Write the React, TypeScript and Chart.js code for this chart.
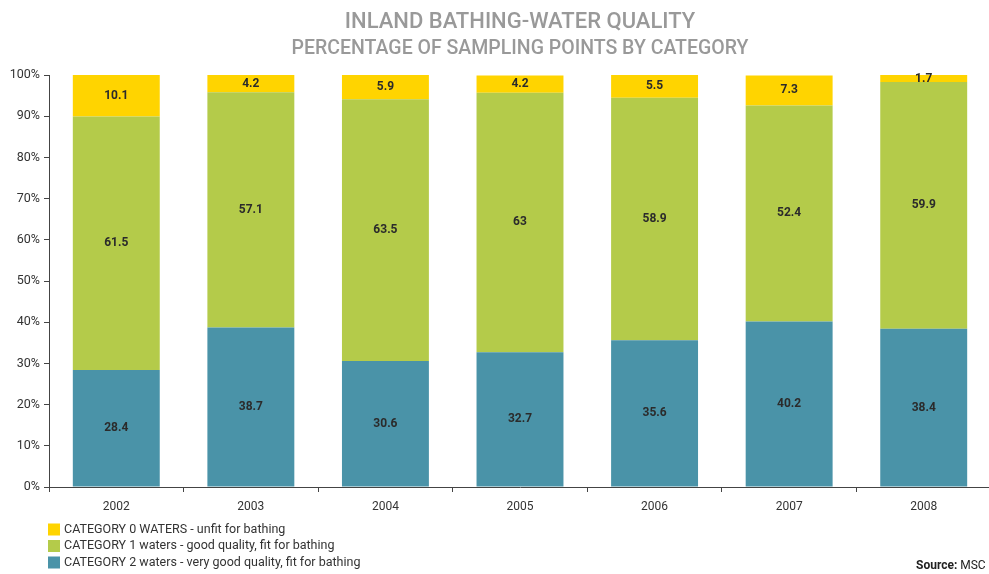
import React, { useEffect, useRef } from "react";
import { Chart, registerables } from "chart.js";

Chart.register(...registerables);

const years = ["2002", "2003", "2004", "2005", "2006", "2007", "2008"];
const cat2 = [28.4, 38.7, 30.6, 32.7, 35.6, 40.2, 38.4];
const cat1 = [61.5, 57.1, 63.5, 63, 58.9, 52.4, 59.9];
const cat0 = [10.1, 4.2, 5.9, 4.2, 5.5, 7.3, 1.7];
const yTicks = [0, 10, 20, 30, 40, 50, 60, 70, 80, 90, 100];

const titleLines = ["INLAND BATHING-WATER QUALITY", "PERCENTAGE OF SAMPLING POINTS BY CATEGORY"];
const legendLabels = [
  "CATEGORY 0 WATERS - unfit for bathing",
  "CATEGORY 1 waters - good quality, fit for bathing",
  "CATEGORY 2 waters - very good quality, fit for bathing",
];
const COLORS = { c0: "#FFD400", c1: "#B4CB4A", c2: "#4A93A8" };
const FONT = "Roboto, 'DejaVu Sans', sans-serif";

const decorPlugin = {
  id: "decor",
  afterDatasetsDraw(chart: any) {
    const ctx = chart.ctx;
    ctx.save();
    ctx.fillStyle = "#2b2b2b";
    ctx.font = `bold 12px ${FONT}`;
    ctx.textAlign = "center";
    ctx.textBaseline = "middle";
    chart.data.datasets.forEach((ds: any, di: number) => {
      const meta = chart.getDatasetMeta(di);
      meta.data.forEach((bar: any, i: number) => {
        const y = (bar.y + bar.base) / 2;
        ctx.fillText(String(ds.data[i]), bar.x, y);
      });
    });
    ctx.restore();
  },
  afterDraw(chart: any) {
    const ctx = chart.ctx;
    ctx.save();
    ctx.fillStyle = "#999999";
    ctx.textAlign = "center";
    ctx.textBaseline = "alphabetic";
    ctx.font = `500 22px ${FONT}`;
    ctx.fillText(titleLines[0], 520, 27.5);
    ctx.font = `500 19.5px ${FONT}`;
    ctx.fillText(titleLines[1], 520, 54);

    const cols = [COLORS.c0, COLORS.c1, COLORS.c2];
    ctx.textAlign = "left";
    ctx.textBaseline = "middle";
    ctx.font = `12.5px ${FONT}`;
    legendLabels.forEach((t, i) => {
      const y = 529.5 + i * 16.5;
      ctx.fillStyle = cols[i];
      ctx.fillRect(48, y - 6, 12, 12);
      ctx.fillStyle = "#333333";
      ctx.fillText(t, 64, y);
    });

    ctx.font = `bold 12px ${FONT}`;
    ctx.fillStyle = "#222222";
    const s1 = "Source: ";
    ctx.fillText(s1, 916, 566);
    const w = ctx.measureText(s1).width;
    ctx.font = `12px ${FONT}`;
    ctx.fillText("MSC", 916 + w, 566);
    ctx.restore();
  },
};

export default function App() {
  const ref = useRef<HTMLCanvasElement>(null);
  useEffect(() => {
    document.body.style.margin = "0";
    const chart = new Chart(ref.current!, {
      type: "bar",
      data: {
        labels: years,
        datasets: [
          { label: legendLabels[2], data: cat2, backgroundColor: COLORS.c2 },
          { label: legendLabels[1], data: cat1, backgroundColor: COLORS.c1 },
          { label: legendLabels[0], data: cat0, backgroundColor: COLORS.c0 },
        ],
      },
      options: {
        animation: false,
        responsive: false,
        layout: { padding: { left: 0, top: 75, right: 1, bottom: 0 } },
        datasets: { bar: { categoryPercentage: 1, barPercentage: 0.646 } },
        plugins: { legend: { display: false }, tooltip: { enabled: false }, title: { display: false } },
        scales: {
          x: {
            stacked: true,
            afterFit: (s: any) => { s.height = 87; },
            grid: { drawOnChartArea: false, drawTicks: true, tickLength: 5, color: "#444", offset: true },
            border: { color: "#444", width: 1 },
            ticks: { color: "#333", font: { family: FONT, size: 12 }, padding: 8 },
          },
          y: {
            stacked: true,
            min: 0,
            max: 100,
            afterFit: (s: any) => { s.width = 49; },
            afterBuildTicks: (s: any) => { s.ticks = yTicks.map((v) => ({ value: v })); },
            grid: { drawOnChartArea: false, drawTicks: true, tickLength: 5, color: "#444" },
            border: { color: "#444", width: 1 },
            ticks: { color: "#333", font: { family: FONT, size: 12.5 }, padding: 4, callback: (v: any) => v + "%" },
          },
        },
      },
      plugins: [decorPlugin],
    });
    return () => chart.destroy();
  }, []);
  return (
    <div style={{ width: 989, height: 574, overflow: "hidden", position: "relative" }}>
      <canvas ref={ref} width={992} height={574} style={{ display: "block" }} />
    </div>
  );
}
